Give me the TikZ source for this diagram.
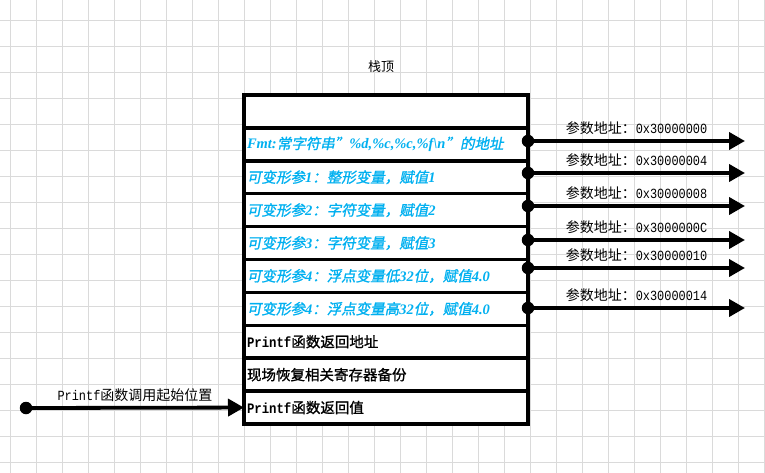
\documentclass[tikz,border=0pt]{standalone}
\usepackage{fontspec}
\usetikzlibrary{arrows.meta,positioning}
\setmainfont{Liberation Serif}
\newfontfamily\cjk{Noto Sans CJK SC}
\newfontfamily\cjkbf[FakeBold=1.2]{Noto Sans CJK SC}
\newfontfamily\cjkit[FakeBold=1.2,FakeSlant=0.2]{Noto Sans CJK SC}
\newfontfamily\ascmono[FakeStretch=0.85]{Liberation Mono}
\newfontfamily\ascserif{Liberation Serif}
\newcommand{\asc}[1]{{\ascmono #1}}
\newcommand{\ascbf}[1]{{\ascmono\bfseries #1}}
\newcommand{\ascit}[1]{{\ascserif\bfseries\itshape #1}}
\definecolor{parablue}{RGB}{0,176,240}
\definecolor{gridgray}{RGB}{218,218,218}
\tikzset{
  stack row/.style={
    rectangle, draw=black, line width=3.5pt, fill=white,
    outer sep=0pt, inner xsep=3pt, inner ysep=0pt,
    text width=278pt, minimum height=32.9pt, align=left,
    font=\cjkbf\fontsize{14.5}{16}\selectfont
  },
  param row/.style={stack row, text=parablue, font=\cjkit\fontsize{14.5}{16}\selectfont},
  addr dot/.style={circle, fill=black, inner sep=0pt, minimum size=12.5pt},
  addr arrow/.style={-{Triangle[length=16pt,width=17pt]}, line width=3.8pt},
  addr label/.style={font=\cjk\fontsize{14}{16}\selectfont, above=3pt, inner sep=1pt},
  grid line/.style={draw=gridgray, line width=0.9pt}
}

\begin{document}
\begin{tikzpicture}[x=1pt, y=1pt, node distance=0pt]
    \useasboundingbox[fill=white] (0,0) rectangle (765,-473);
    % background grid
    \foreach \gx in {10,36,...,764} \draw[grid line] (\gx,0) -- (\gx,-473);
    \foreach \gy in {20,46,...,462} \draw[grid line] (0,-\gy) -- (765,-\gy);

    % stack frame
    \node[stack row, anchor=north west] (r0) at (244,-95) {};
    \node[param row, below=of r0] (r1) {\ascit{Fmt:}常字符串”\ascit{\%d,\%c,\%c,\%f\textbackslash n}”的地址};
    \node[param row, below=of r1] (r2) {可变形参\ascit{1}：整形变量，赋值\ascit{1}};
    \node[param row, below=of r2] (r3) {可变形参\ascit{2}：字符变量，赋值\ascit{2}};
    \node[param row, below=of r3] (r4) {可变形参\ascit{3}：字符变量，赋值\ascit{3}};
    \node[param row, below=of r4] (r5) {可变形参\ascit{4}：浮点变量低\ascit{32}位，赋值\ascit{4.0}};
    \node[param row, below=of r5] (r6) {可变形参\ascit{4}：浮点变量高\ascit{32}位，赋值\ascit{4.0}};
    \node[stack row, below=of r6] (r7) {\ascbf{Printf}函数返回地址};
    \node[stack row, below=of r7] (r8) {现场恢复相关寄存器备份};
    \node[stack row, below=of r8] (r9) {\ascbf{Printf}函数返回值};
    \node[font=\cjk\fontsize{13}{15}\selectfont, above=19pt of r0, xshift=-5pt] (stacktop) {栈顶};

    % parameter addresses
    \node[addr dot] (d1) at (528,-141) {};
    \node[addr dot] (d2) at (528,-173) {};
    \node[addr dot] (d3) at (528,-206) {};
    \node[addr dot] (d4) at (528,-240) {};
    \node[addr dot] (d5) at (528,-268) {};
    \node[addr dot] (d6) at (528,-308) {};
    \coordinate (a1) at (745,-141);
    \coordinate (a2) at (745,-173);
    \coordinate (a3) at (745,-206);
    \coordinate (a4) at (745,-240);
    \coordinate (a5) at (745,-268);
    \coordinate (a6) at (745,-308);
    \draw[addr arrow] (d1.center) -- (a1) node[addr label, midway] {参数地址：\asc{0x30000000}};
    \draw[addr arrow] (d2.center) -- (a2) node[addr label, midway] {参数地址：\asc{0x30000004}};
    \draw[addr arrow] (d3.center) -- (a3) node[addr label, midway] {参数地址：\asc{0x30000008}};
    \draw[addr arrow] (d4.center) -- (a4) node[addr label, midway] {参数地址：\asc{0x3000000C}};
    \draw[addr arrow] (d5.center) -- (a5) node[addr label, midway] {参数地址：\asc{0x30000010}};
    \draw[addr arrow] (d6.center) -- (a6) node[addr label, midway] {参数地址：\asc{0x30000014}};

    % call start
    \node[addr dot] (start) at (26,-408) {};
    \draw[addr arrow] (start.center) -- (r9.west) node[addr label, midway] {\asc{Printf}函数调用起始位置};
  \end{tikzpicture}
\end{document}
